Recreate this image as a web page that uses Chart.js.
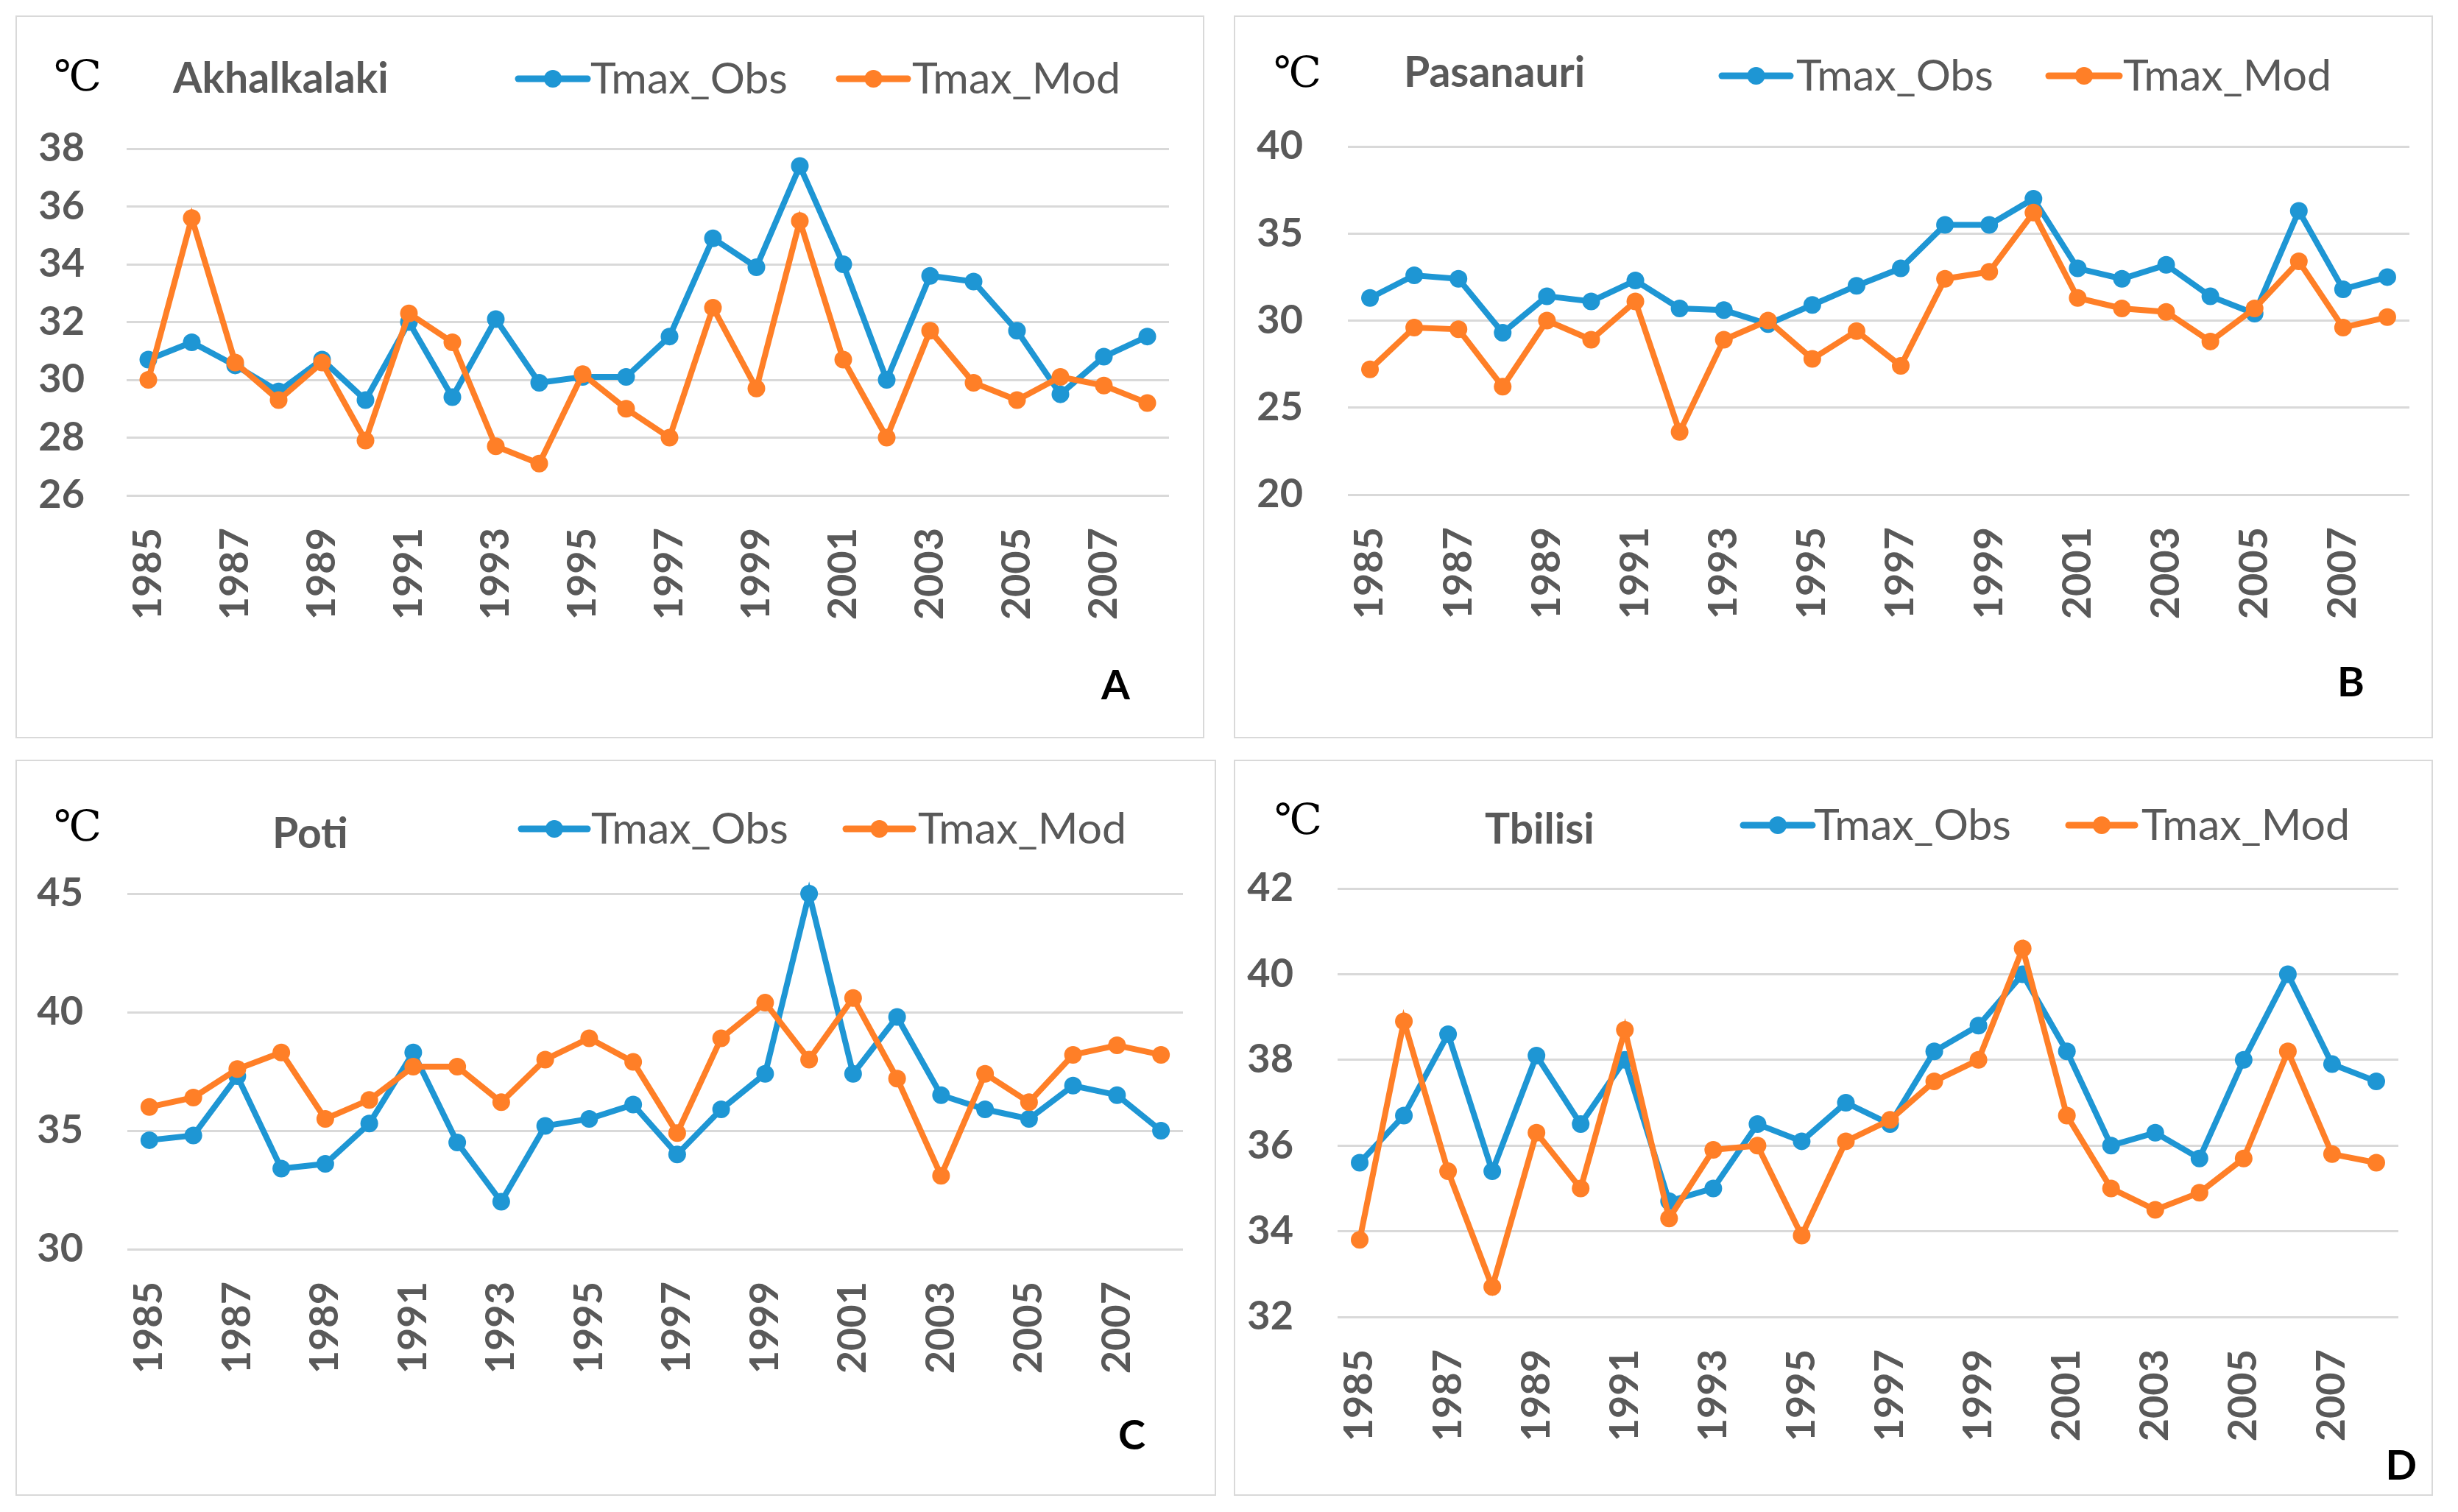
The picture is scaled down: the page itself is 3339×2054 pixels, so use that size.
<!DOCTYPE html>
<html><head><meta charset="utf-8">
<script src="https://cdn.jsdelivr.net/npm/chart.js@4.4.1/dist/chart.umd.min.js"></script>
<style>
html,body{margin:0;padding:0;background:#fff;}
body{width:3339px;height:2054px;position:relative;overflow:hidden;}
canvas{position:absolute;}
.panel{position:absolute;border:2px solid #d9d9d9;box-sizing:border-box;}
svg{position:absolute;left:0;top:0;}
</style></head><body>
<script>
// ---------- data ----------
const years = ['1985','1986','1987','1988','1989','1990','1991','1992','1993','1994','1995','1996',
               '1997','1998','1999','2000','2001','2002','2003','2004','2005','2006','2007','2008'];
const tickYears = ['1985','1987','1989','1991','1993','1995','1997','1999','2001','2003','2005','2007'];
const seriesNames = ['Tmax_Obs','Tmax_Mod'];
const stations = ['Akhalkalaki','Pasanauri','Poti','Tbilisi'];
const panelLetters = ['A','B','C','D'];
const unitLabel = '℃';

const akhalkalakiObs = [30.7,31.3,30.5,29.6,30.7,29.3,32.0,29.4,32.1,29.9,30.1,30.1,31.5,34.9,33.9,37.4,34.0,30.0,33.6,33.4,31.7,29.5,30.8,31.5];
const akhalkalakiMod = [30.0,35.6,30.6,29.3,30.6,27.9,32.3,31.3,27.7,27.1,30.2,29.0,28.0,32.5,29.7,35.5,30.7,28.0,31.7,29.9,29.3,30.1,29.8,29.2];
const akhalkalakiTicks = [26,28,30,32,34,36,38];

const pasanauriObs = [31.3,32.6,32.4,29.3,31.4,31.1,32.3,30.7,30.6,29.8,30.9,32.0,33.0,35.5,35.5,37.0,33.0,32.4,33.2,31.4,30.4,36.3,31.8,32.5];
const pasanauriMod = [27.2,29.6,29.5,26.2,30.0,28.9,31.1,23.6,28.9,30.0,27.8,29.4,27.4,32.4,32.8,36.2,31.3,30.7,30.5,28.8,30.7,33.4,29.6,30.2];
const pasanauriTicks = [20,25,30,35,40];

const potiObs = [34.6,34.8,37.3,33.4,33.6,35.3,38.3,34.5,32.0,35.2,35.5,36.1,34.0,35.9,37.4,45.0,37.4,39.8,36.5,35.9,35.5,36.9,36.5,35.0];
const potiMod = [36.0,36.4,37.6,38.3,35.5,36.3,37.7,37.7,36.2,38.0,38.9,37.9,34.9,38.9,40.4,38.0,40.6,37.2,33.1,37.4,36.2,38.2,38.6,38.2];
const potiTicks = [30,35,40,45];

const tbilisiObs = [35.6,36.7,38.6,35.4,38.1,36.5,38.0,34.7,35.0,36.5,36.1,37.0,36.5,38.2,38.8,40.0,38.2,36.0,36.3,35.7,38.0,40.0,37.9,37.5];
const tbilisiMod = [33.8,38.9,35.4,32.7,36.3,35.0,38.7,34.3,35.9,36.0,33.9,36.1,36.6,37.5,38.0,40.6,36.7,35.0,34.5,34.9,35.7,38.2,35.8,35.6];
const tbilisiTicks = [32,34,36,38,40,42];

// ---------- styles / layout ----------
const BLUE = '#1E96D4';
const ORANGE = '#FF7F27';
const GRAY = '#595959';
const FONT = 'Lato';

const layouts = [
  {box:[21,21,1636,1003], grid:[172,202,1588,673], yPad:57,
   deg:[73,123], title:[235,126], legY:107, leg:[[704,798,802],[1140,1233,1239]], letter:[1535,950]},
  {box:[1676,21,3305,1003], grid:[1831,199,3273,672], yPad:61,
   deg:[1730,118], title:[1907,118], legY:103, leg:[[2339,2432,2440],[2783,2879,2884]], letter:[3212,946]},
  {box:[21,1032,1652,2032], grid:[173,1214,1607,1697], yPad:60,
   deg:[73,1142], title:[370,1152], legY:1126, leg:[[708,798,803],[1149,1240,1247]], letter:[1556,1969]},
  {box:[1676,1032,3305,2032], grid:[1817,1207,3258,1789], yPad:60,
   deg:[1731,1133], title:[2017,1146], legY:1121, leg:[[2368,2462,2464],[2810,2900,2909]], letter:[3283,2010]}
];
const panelData = [
  {obs:akhalkalakiObs, mod:akhalkalakiMod, ticks:akhalkalakiTicks},
  {obs:pasanauriObs, mod:pasanauriMod, ticks:pasanauriTicks},
  {obs:potiObs, mod:potiMod, ticks:potiTicks},
  {obs:tbilisiObs, mod:tbilisiMod, ticks:tbilisiTicks}
];

const SVGNS = 'http://www.w3.org/2000/svg';
const svg = document.createElementNS(SVGNS,'svg');
svg.setAttribute('width','3339'); svg.setAttribute('height','2054');

function svgEl(tag, attrs, text){
  const e = document.createElementNS(SVGNS, tag);
  for (const k in attrs) e.setAttribute(k, attrs[k]);
  if (text !== undefined) e.textContent = text;
  svg.appendChild(e);
  return e;
}

function zeroPad(s){ s.paddingLeft = 0; s.paddingRight = 0; s.paddingTop = 0; s.paddingBottom = 0; }

const X_AXIS_H = 200;

layouts.forEach((lay, i) => {
  const d = panelData[i];
  const [L,T,R,B] = lay.box;
  const [gl,gt,gr,gb] = lay.grid;

  const border = document.createElement('div');
  border.className = 'panel';
  Object.assign(border.style, {left:L+'px', top:T+'px', width:(R-L)+'px', height:(B-T)+'px'});
  document.body.appendChild(border);

  const cv = document.createElement('canvas');
  cv.width = R-L; cv.height = B-T;
  Object.assign(cv.style, {left:L+'px', top:T+'px', width:(R-L)+'px', height:(B-T)+'px'});
  document.body.appendChild(cv);

  const mk = (name, data, color, order) => ({
    label:name, data:data, borderColor:color, backgroundColor:color,
    pointBackgroundColor:color, pointBorderColor:color, pointRadius:12, pointBorderWidth:0,
    borderWidth:8, tension:0, clip:false, order:order
  });

  new Chart(cv.getContext('2d'), {
    type:'line',
    data:{labels:years, datasets:[mk(seriesNames[0], d.obs, BLUE, 2), mk(seriesNames[1], d.mod, ORANGE, 1)]},
    options:{
      responsive:false, animation:false, devicePixelRatio:1,
      layout:{padding:{left:0, top:gt-T, right:R-gr, bottom:(B-gb)-X_AXIS_H}},
      plugins:{legend:{display:false}, title:{display:false}, tooltip:{enabled:false}},
      scales:{
        x:{offset:true, grid:{display:false, drawTicks:false}, border:{display:false},
           ticks:{autoSkip:false, maxRotation:90, minRotation:90, padding:44, color:GRAY,
                  font:{family:FONT, weight:'bold', size:54},
                  callback:function(v, idx){ const l = years[idx]; return tickYears.includes(l) ? l : ''; }},
           afterFit:(s)=>{ s.height = X_AXIS_H; zeroPad(s); }},
        y:{min:d.ticks[0], max:d.ticks[d.ticks.length-1],
           grid:{color:'#d9d9d9', lineWidth:3, drawTicks:false}, border:{display:false},
           ticks:{padding:lay.yPad, color:GRAY, font:{family:FONT, weight:'bold', size:54}},
           afterBuildTicks:(s)=>{ s.ticks = d.ticks.map(v=>({value:v})); },
           afterFit:(s)=>{ s.width = gl-L; zeroPad(s); }}
      }
    }
  });

  // texts
  svgEl('text', {x:lay.deg[0], y:lay.deg[1], 'font-family':"'Liberation Serif','DejaVu Serif',serif", 'font-size':58, fill:'#000'}, unitLabel);
  svgEl('text', {x:lay.title[0], y:lay.title[1], 'font-family':FONT, 'font-weight':'bold', 'font-size':57, fill:GRAY}, stations[i]);
  const cols = [BLUE, ORANGE];
  lay.leg.forEach((lg, k) => {
    svgEl('line', {x1:lg[0], y1:lay.legY, x2:lg[1], y2:lay.legY, stroke:cols[k], 'stroke-width':9, 'stroke-linecap':'round'});
    svgEl('circle', {cx:(lg[0]+lg[1])/2, cy:lay.legY, r:12, fill:cols[k]});
    svgEl('text', {x:lg[2], y:lay.legY+20, 'font-family':FONT, 'font-size':59, fill:GRAY}, seriesNames[k]);
  });
  svgEl('text', {x:lay.letter[0], y:lay.letter[1], 'text-anchor':'end', 'font-family':FONT, 'font-weight':'bold', 'font-size':56, fill:'#000'}, panelLetters[i]);
});
document.body.appendChild(svg);
</script>
</body></html>
